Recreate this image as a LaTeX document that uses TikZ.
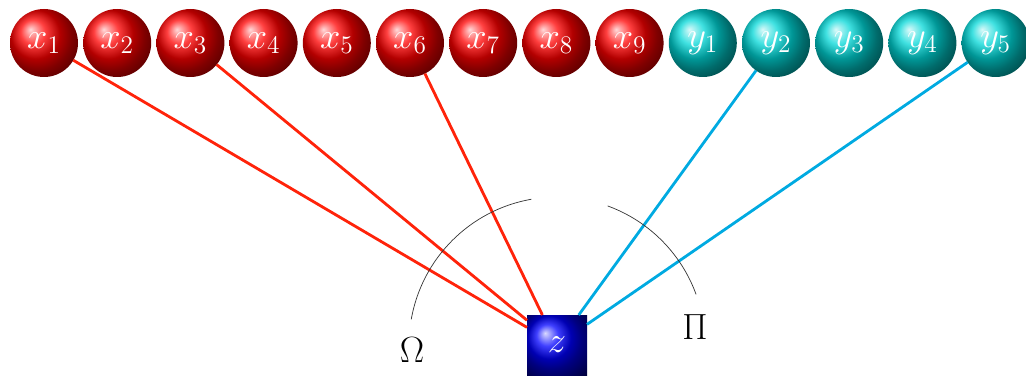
\documentclass[tikz,border=0pt]{standalone}
\usepackage{tikz}
\usepackage{xcolor}
\usetikzlibrary{positioning}
\definecolor{edgered}{RGB}{255,35,10}
\definecolor{edgecyan}{RGB}{0,170,225}
\definecolor{ballteal}{RGB}{0,215,215}

\begin{document}
\begin{tikzpicture}[
    node distance=0.104cm,
    xball/.style={circle,shading=ball,ball color=red,minimum size=1.36cm,
      inner sep=0pt,outer sep=0pt,text=white,font=\huge},
    yball/.style={circle,shading=ball,ball color=ballteal,minimum size=1.36cm,
      inner sep=0pt,outer sep=0pt,text=white,font=\huge},
    zbox/.style={rectangle,shading=ball,ball color=blue,minimum size=1.2cm,
      inner sep=0pt,outer sep=0pt,text=white,font=\huge},
    redline/.style={draw=edgered,line width=1.6pt},
    cyanline/.style={draw=edgecyan,line width=1.6pt},
    anglearc/.style={draw=black!80,line width=0.4pt}
  ]
    \useasboundingbox (0,0) rectangle (20.52,7.5);
    \node[xball] (x1) at (0.88,6.64) {$x_1$};
    \node[xball,right=of x1] (x2) {$x_2$};
    \node[xball,right=of x2] (x3) {$x_3$};
    \node[xball,right=of x3] (x4) {$x_4$};
    \node[xball,right=of x4] (x5) {$x_5$};
    \node[xball,right=of x5] (x6) {$x_6$};
    \node[xball,right=of x6] (x7) {$x_7$};
    \node[xball,right=of x7] (x8) {$x_8$};
    \node[xball,right=of x8] (x9) {$x_9$};
    \node[yball,right=of x9] (y1) {$y_1$};
    \node[yball,right=of y1] (y2) {$y_2$};
    \node[yball,right=of y2] (y3) {$y_3$};
    \node[yball,right=of y3] (y4) {$y_4$};
    \node[yball,right=of y4] (y5) {$y_5$};
    \node[zbox] (z) at (11.14,0.6) {$z$};
    \draw[redline] (x1) -- (z);
    \draw[redline] (x3) -- (z);
    \draw[redline] (x6) -- (z);
    \draw[cyanline] (y2) -- (z);
    \draw[cyanline] (y5) -- (z);
    % angle marks round z
    \draw[anglearc] (z.center) ++(100:2.96) arc[start angle=100,end angle=170,radius=2.96];
    \draw[anglearc] (z.center) ++(20:2.96) arc[start angle=20,end angle=70,radius=2.96];
    \node[font=\huge] (omega) at (8.24,0.5) {$\Omega$};
    \node[font=\huge] (pi) at (13.9,0.96) {$\Pi$};
  \end{tikzpicture}
\end{document}
